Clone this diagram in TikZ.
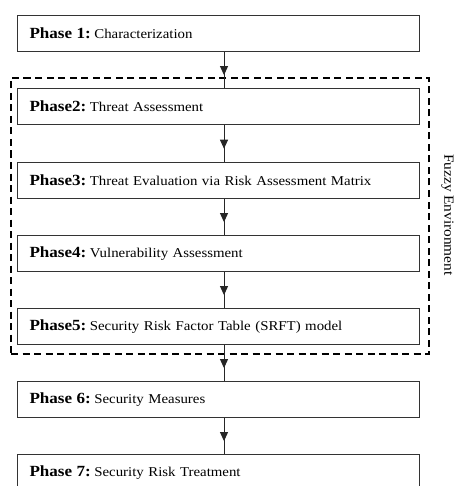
\documentclass[tikz,border=0pt]{standalone}
\usepackage{fontspec}
\setmainfont[FakeStretch=1.1,WordSpace={0.85,0.9,0.9}]{Liberation Serif}
\usetikzlibrary{arrows.meta,decorations.markings}
% bold phase tag followed by a tight gap before the description
\newcommand{\phasetag}[1]{\textbf{\fontsize{15.5}{17}\selectfont #1}\hspace{3.5pt}\ignorespaces}
\begin{document}
\begin{tikzpicture}[x=1pt,y=-1pt,
  phasebox/.style={draw=black!80,line width=1.1pt,minimum width=402pt,minimum height=36pt,
    anchor=north west,inner xsep=12pt,inner ysep=0pt,text width=378pt,align=left,
    font=\fontsize{13.5}{15}\selectfont},
  flow/.style={draw=black!85,line width=1pt,postaction={decorate},
    decoration={markings,mark=at position 0.64 with {\arrow{Triangle[length=9pt,width=8pt]}}}},
  region/.style={draw=black,line width=2pt,dash pattern=on 7pt off 4.5pt},
  lbl/.style={font=\fontsize{14}{16}\selectfont}]
\useasboundingbox (0,0) rectangle (455,486);
\begin{scope}
\clip (0,0) rectangle (455,486);
\node[region,minimum width=418pt,minimum height=276pt,anchor=north west,inner sep=0pt] (fuzzy) at (10,77) {};
\node[phasebox] (p1) at (17,15) {\phasetag{Phase 1:} Characterization};
\node[phasebox] (p2) at (17,88) {\phasetag{Phase2:} Threat Assessment};
\node[phasebox] (p3) at (17,162) {\phasetag{Phase3:} Threat Evaluation via Risk Assessment Matrix};
\node[phasebox] (p4) at (17,235) {\phasetag{Phase4:} Vulnerability Assessment};
\node[phasebox] (p5) at (17,308) {\phasetag{Phase5:} Security Risk Factor Table (SRFT) model};
\node[phasebox] (p6) at (17,381) {\phasetag{Phase 6:} Security Measures};
\node[phasebox] (p7) at (17,454) {\phasetag{Phase 7:} Security Risk Treatment};
\foreach \a/\b in {p1/p2,p2/p3,p3/p4,p4/p5,p5/p6,p6/p7}
  \draw[flow] (\a.south -| 224,0) -- (\b.north -| 224,0);
\node[lbl,rotate=-90] (fuzzylbl) at (447.5,215) {Fuzzy Environment};
\end{scope}
\end{tikzpicture}
\end{document}
